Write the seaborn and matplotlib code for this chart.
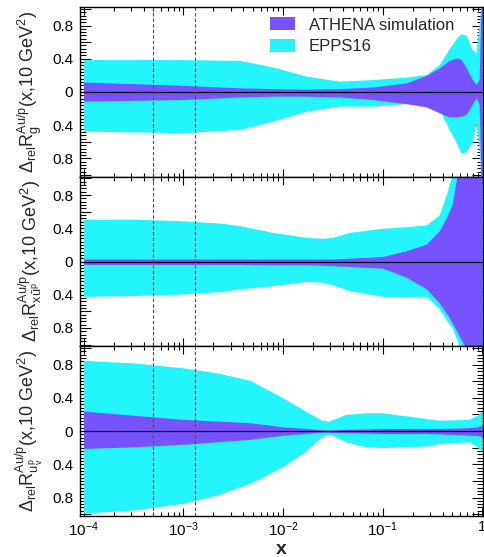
import numpy as np
import matplotlib
matplotlib.use("Agg")
import matplotlib.pyplot as plt
from matplotlib.ticker import MultipleLocator, AutoMinorLocator, LogLocator, FuncFormatter, NullFormatter
import seaborn as sns

# band edges, x given as log10(x)
logx_g = [-4.0, -3.5, -3.0, -2.43, -2.1, -1.76, -1.43, -1.1, -0.76, -0.56, -0.43,
          -0.33, -0.25, -0.21, -0.16, -0.1, -0.06, -0.03, -0.012, 0.0]
epps_g_hi = [0.39, 0.39, 0.39, 0.38, 0.30, 0.19, 0.13, 0.15, 0.18, 0.21, 0.33,
             0.52, 0.66, 0.70, 0.68, 0.51, 0.47, 0.80, 1.05, 1.05]
epps_g_lo = [-0.47, -0.48, -0.49, -0.45, -0.35, -0.23, -0.17, -0.17, -0.14, -0.13, -0.21,
             -0.45, -0.63, -0.74, -0.72, -0.60, -0.37, -0.70, -1.05, -1.05]
athena_g_hi = [0.12, 0.10, 0.08, 0.05, 0.04, 0.035, 0.04, 0.06, 0.11, 0.20, 0.29,
               0.38, 0.41, 0.39, 0.29, 0.15, 0.09, 0.15, 1.05, 1.05]
athena_g_lo = [-0.11, -0.10, -0.09, -0.06, -0.05, -0.05, -0.06, -0.09, -0.14, -0.18, -0.25,
               -0.30, -0.30, -0.29, -0.27, -0.15, -0.07, -0.15, -1.05, -1.05]

logx_u = [-4.0, -3.5, -3.0, -2.6, -2.43, -2.1, -1.76, -1.6, -1.5, -1.33, -1.0, -0.76,
          -0.56, -0.43, -0.35, -0.3, -0.25, -0.22, -0.16, 0.0]
epps_u_hi = [0.51, 0.51, 0.49, 0.46, 0.43, 0.35, 0.29, 0.28, 0.29, 0.35, 0.40, 0.42,
             0.44, 0.56, 0.84, 1.05, 1.05, 1.05, 1.05, 1.05]
epps_u_lo = [-0.42, -0.41, -0.39, -0.36, -0.33, -0.29, -0.24, -0.25, -0.28, -0.35, -0.42, -0.42,
             -0.42, -0.57, -0.72, -0.80, -0.95, -1.05, -1.05, -1.05]
athena_u_hi = [0.03, 0.03, 0.03, 0.03, 0.03, 0.03, 0.03, 0.03, 0.03, 0.04, 0.06, 0.13,
               0.21, 0.37, 0.55, 0.69, 1.05, 1.05, 1.05, 1.05]
athena_u_lo = [-0.035, -0.035, -0.035, -0.035, -0.035, -0.04, -0.04, -0.045, -0.05, -0.06, -0.08, -0.19,
               -0.33, -0.50, -0.64, -0.74, -0.85, -0.92, -1.05, -1.05]

logx_v = [-4.0, -3.5, -3.0, -2.66, -2.33, -2.0, -1.76, -1.61, -1.54, -1.45, -1.37,
          -1.16, -1.0, -0.56, -0.43, -0.13, -0.05, -0.02, 0.0]
epps_v_hi = [0.85, 0.82, 0.76, 0.70, 0.61, 0.40, 0.23, 0.13, 0.12, 0.16, 0.20,
             0.22, 0.22, 0.15, 0.13, 0.14, 0.19, 0.23, 0.23]
epps_v_lo = [-0.99, -0.95, -0.87, -0.77, -0.63, -0.43, -0.23, -0.07, -0.04, -0.08, -0.13,
             -0.19, -0.20, -0.18, -0.15, -0.13, -0.19, -0.23, -0.23]
athena_v_hi = [0.24, 0.19, 0.14, 0.12, 0.10, 0.05, 0.03, 0.015, 0.01, 0.015, 0.02,
               0.025, 0.03, 0.03, 0.03, 0.04, 0.05, 0.06, 0.08]
athena_v_lo = [-0.21, -0.19, -0.16, -0.13, -0.10, -0.05, -0.03, -0.015, -0.015, -0.02, -0.02,
               -0.025, -0.03, -0.03, -0.035, -0.05, -0.055, -0.06, -0.08]

dashed_x = [5e-4, 1.3e-3]

label_g = r"$\Delta_{\mathrm{rel}}\mathrm{R}^{\mathrm{Au/p}}_{\mathrm{g}}$(x,10 GeV$^{2}$)"
label_u = r"$\Delta_{\mathrm{rel}}\mathrm{R}^{\mathrm{Au/p}}_{\mathrm{x\bar{u}^{p}}}$(x,10 GeV$^{2}$)"
label_v = r"$\Delta_{\mathrm{rel}}\mathrm{R}^{\mathrm{Au/p}}_{\mathrm{u^{p}_{v}}}$(x,10 GeV$^{2}$)"

PURPLE = "#7753ff"
CYAN = "#24f4fc"

sns.set_theme(style="ticks")
plt.rcParams["font.family"] = ["Liberation Sans", "DejaVu Sans"]
plt.rcParams["mathtext.fontset"] = "custom"
plt.rcParams["mathtext.rm"] = "Liberation Sans"
plt.rcParams["mathtext.it"] = "Liberation Sans:italic"
plt.rcParams["mathtext.bf"] = "Liberation Sans:bold"
plt.rcParams["axes.linewidth"] = 1.0
plt.rcParams["axes.edgecolor"] = "black"

fig, axes = plt.subplots(3, 1, figsize=(4.85, 5.57), dpi=100, sharex=True,
                         gridspec_kw={"hspace": 0})
fig.subplots_adjust(left=0.165, right=0.995, top=0.987, bottom=0.074)

panels = [
    (logx_g, epps_g_lo, epps_g_hi, athena_g_lo, athena_g_hi, label_g),
    (logx_u, epps_u_lo, epps_u_hi, athena_u_lo, athena_u_hi, label_u),
    (logx_v, epps_v_lo, epps_v_hi, athena_v_lo, athena_v_hi, label_v),
]


def ylab(v, pos):
    if abs(round(v / 0.4) * 0.4 - v) > 1e-6:
        return ""
    v = abs(v)
    return "0" if v < 1e-6 else f"{v:.1f}"


def xlab(v, pos):
    e = int(round(np.log10(v)))
    return "1" if e == 0 else rf"$10^{{{e}}}$"


for ax, (lx, elo, ehi, alo, ahi, lab) in zip(axes, panels):
    x = 10 ** np.array(lx)
    ax.fill_between(x, elo, ehi, color=CYAN, lw=0, label="EPPS16")
    ax.fill_between(x, alo, ahi, color=PURPLE, lw=0, label="ATHENA simulation")
    ax.axhline(0, color="black", lw=0.9)
    for xv in dashed_x:
        ax.axvline(xv, color="0.3", lw=0.8, ls=(0, (3, 2)))
    ax.set_xscale("log")
    ax.set_xlim(10 ** -4.035, 10 ** 0.004)
    ax.set_ylim(-1.02, 1.02)
    ax.yaxis.set_major_locator(MultipleLocator(0.2))
    ax.yaxis.set_minor_locator(AutoMinorLocator(5))
    ax.yaxis.set_major_formatter(FuncFormatter(ylab))
    ax.xaxis.set_major_locator(LogLocator(base=10))
    ax.xaxis.set_minor_locator(LogLocator(base=10, subs=np.arange(2, 10)))
    ax.xaxis.set_minor_formatter(NullFormatter())
    ax.xaxis.set_major_formatter(FuncFormatter(xlab))
    ax.tick_params(axis="both", which="both", direction="in", top=True, right=True,
                   colors="black", labelsize=11, width=0.8)
    ax.tick_params(axis="y", which="major", length=8, pad=5)
    ax.tick_params(axis="y", which="minor", length=4)
    ax.tick_params(axis="x", which="major", length=6, pad=3)
    ax.tick_params(axis="x", which="minor", length=3)
    ax.text(-0.125, 0.5, lab, transform=ax.transAxes, rotation=90,
            ha="center", va="center", fontsize=13)

h, l = axes[0].get_legend_handles_labels()
axes[0].legend(h[::-1], l[::-1], loc="upper left", bbox_to_anchor=(0.473, 0.94),
               frameon=False, fontsize=12, borderpad=0, borderaxespad=0,
               handlelength=1.5, handleheight=0.8, handletextpad=0.8, labelspacing=0.4)

fig.text(0.579, 0.014, "x", fontsize=14, fontweight="bold", ha="center", va="center")

fig.savefig("out.png", dpi=100)
plt.close(fig)
